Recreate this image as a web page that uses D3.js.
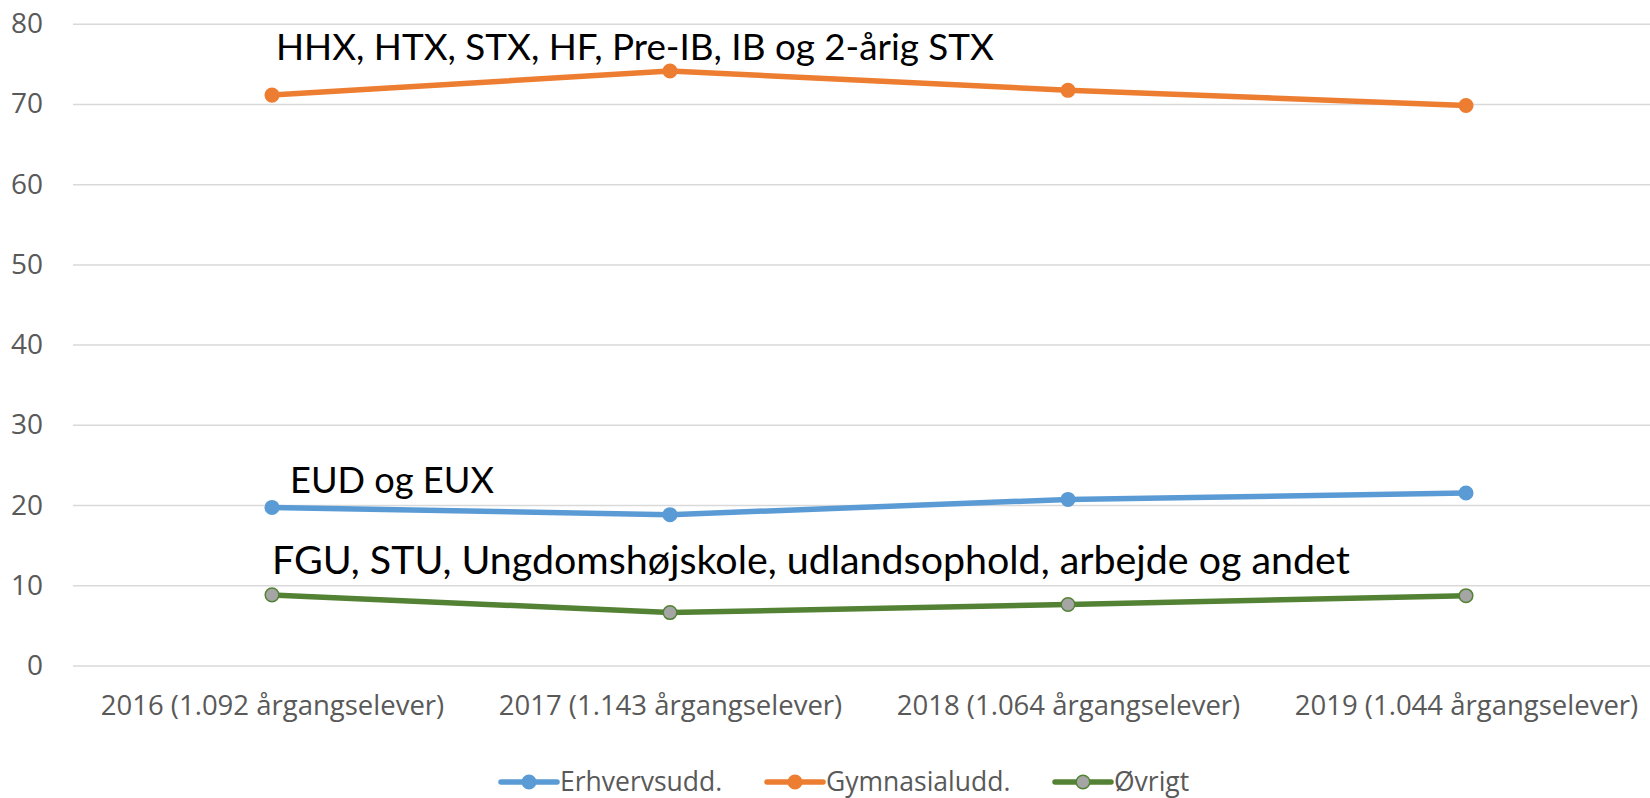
<!DOCTYPE html>
<html>
<head>
<meta charset="utf-8">
<script src="https://cdn.jsdelivr.net/npm/d3@7"></script>
<style>
  html, body { margin: 0; padding: 0; background: #fff; }
  svg { display: block; }
  .axis text { fill: #595959; font-family: "Open Sans", sans-serif; }
  .axis .domain { display: none; }
  .grid line { stroke: #d9d9d9; stroke-width: 1.5; }
</style>
</head>
<body>
<svg id="chart"></svg>
<script>
// data
const years = [
  "2016 (1.092 årgangselever)",
  "2017 (1.143 årgangselever)",
  "2018 (1.064 årgangselever)",
  "2019 (1.044 årgangselever)"
];
const erhverv = [19.7, 18.8, 20.7, 21.5];
const gymnasial = [71.1, 74.1, 71.7, 69.8];
const oevrigt = [8.8, 6.6, 7.6, 8.7];
const yTicks = [0, 10, 20, 30, 40, 50, 60, 70, 80];

const seriesNames = ["Erhvervsudd.", "Gymnasialudd.", "Øvrigt"];
const lineColors = ["#5b9bd5", "#ed7d31", "#548235"];
const markerFills = ["#5b9bd5", "#ed7d31", "#a5a5a5"];
const annotations = [
  "EUD og EUX",
  "HHX, HTX, STX, HF, Pre-IB, IB og 2-årig STX",
  "FGU, STU, Ungdomshøjskole, udlandsophold, arbejde og andet"
];

const series = [erhverv, gymnasial, oevrigt].map((vals, i) => ({
  name: seriesNames[i],
  color: lineColors[i],
  fill: markerFills[i],
  values: vals.map((v, j) => ({ year: years[j], value: v }))
}));

const W = 1650, H = 798;
const plot = { left: 73, right: 1665, top: 23.7, bottom: 665.5 };

const svg = d3.select("#chart").attr("width", W).attr("height", H);

const x = d3.scalePoint().domain(years).range([plot.left, plot.right]).padding(0.5);
const y = d3.scaleLinear().domain([0, 80]).range([plot.bottom, plot.top]);

// gridlines + y labels
const yAxis = svg.append("g")
  .attr("class", "axis grid")
  .attr("transform", `translate(${plot.left},0)`)
  .call(d3.axisLeft(y).tickValues(yTicks).tickSize(-(plot.right - plot.left)).tickPadding(30).tickFormat(d3.format("d")));
yAxis.selectAll("text").attr("font-size", 28);

// x labels
const xAxis = svg.append("g")
  .attr("class", "axis")
  .attr("transform", `translate(0,${plot.bottom})`)
  .call(d3.axisBottom(x).tickSize(0).tickPadding(30));
xAxis.selectAll("text").attr("font-size", 27.5);

const line = d3.line().x(d => x(d.year)).y(d => y(d.value));

const groups = svg.selectAll("g.series")
  .data(series)
  .enter()
  .append("g")
  .attr("class", "series");

groups.append("path")
  .attr("d", d => line(d.values))
  .attr("fill", "none")
  .attr("stroke", d => d.color)
  .attr("stroke-width", 5.5)
  .attr("stroke-linejoin", "round");

groups.each(function (s) {
  d3.select(this).selectAll("circle")
    .data(s.values)
    .enter()
    .append("circle")
    .attr("cx", d => x(d.year))
    .attr("cy", d => y(d.value))
    .attr("r", 6.8)
    .attr("fill", s.fill)
    .attr("stroke", s.color)
    .attr("stroke-width", 1.5);
});

// annotations: placed relative to the first point of each series
// dx from first point, dy (baseline) relative to first point, target width
const annoLayout = [
  { dx: 18, dy: -14, w: 204 },
  { dx: 4, dy: -35, w: 718 },
  { dx: 0, dy: -21, w: 1078 }
];
series.forEach((s, i) => {
  const p = s.values[0];
  const t = svg.append("text")
    .attr("x", x(p.year) + annoLayout[i].dx)
    .attr("y", y(p.value) + annoLayout[i].dy)
    .attr("font-family", "Lato, 'Open Sans', sans-serif")
    .attr("font-size", 34)
    .attr("fill", "#000")
    .text(annotations[i]);
  // fit to the reference width
  const len = t.node().getComputedTextLength();
  t.attr("font-size", 34 * annoLayout[i].w / len);
});

// legend
const legendX = [501, 767, 1055];
const legendY = 782;
const legend = svg.selectAll("g.legend")
  .data(series)
  .enter()
  .append("g")
  .attr("class", "legend")
  .attr("transform", (d, i) => `translate(${legendX[i]},${legendY})`);

legend.append("line")
  .attr("x1", 0).attr("x2", 56)
  .attr("stroke", d => d.color)
  .attr("stroke-width", 5.5)
  .attr("stroke-linecap", "round");
legend.append("circle")
  .attr("cx", 28).attr("r", 6.8)
  .attr("fill", d => d.fill)
  .attr("stroke", d => d.color)
  .attr("stroke-width", 1.5);
legend.append("text")
  .attr("x", 59)
  .attr("dy", "0.33em")
  .attr("font-family", "'Open Sans', sans-serif")
  .attr("font-size", 26.5)
  .attr("fill", "#595959")
  .text(d => d.name);
</script>
</body>
</html>
